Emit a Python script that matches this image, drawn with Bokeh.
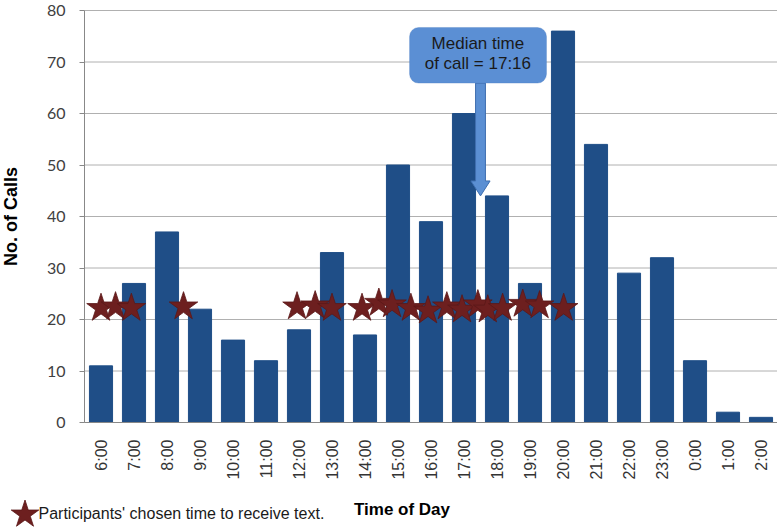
import math
from bokeh.plotting import figure
from bokeh.models import (Range1d, FixedTicker, Label, BoxAnnotation,
                          ColumnDataSource)
from bokeh.core.properties import value
from bokeh.embed import file_html
from bokeh.resources import INLINE

# ---------------- data ----------------
hours = ["6:00", "7:00", "8:00", "9:00", "10:00", "11:00", "12:00", "13:00",
         "14:00", "15:00", "16:00", "17:00", "18:00", "19:00", "20:00",
         "21:00", "22:00", "23:00", "0:00", "1:00", "2:00"]
calls = [11, 27, 37, 22, 16, 12, 18, 33, 17, 50, 39, 60, 44, 27, 76,
         54, 29, 32, 12, 2, 1]
y_ticks = [0, 10, 20, 30, 40, 50, 60, 70, 80]

# participants' chosen times (position in hours after 6:00) and marker heights
chosen_pos = [0.0, 0.44, 0.92, 2.50, 5.94, 6.49, 7.00, 7.91, 8.42, 8.82,
              9.39, 9.91, 10.48, 10.94, 11.42, 11.72, 12.17, 12.78, 13.29, 14.02]
chosen_y = [22.2, 22.5, 22.2, 22.5, 22.5, 22.7, 22.2, 22.2, 23.2, 22.9,
            22.2, 21.7, 22.5, 21.9, 22.9, 21.9, 22.2, 23.0, 22.7, 22.2]

median_label = "Median time\nof call = 17:16"
median_pos = 11.5          # position of the median arrow on the hour axis
median_bar_top = 44        # arrow points to top of 18:00 bar

x_title = "Time of Day"
y_title = "No. of Calls"
legend_label = "Participants' chosen time to receive text."

# ---------------- layout constants ----------------
W, H = 777, 531
AX_LEFT, AX_TOP, AX_ZERO = 84, 10, 422     # pixel positions of plot area
NX = len(hours)
YMAX = y_ticks[-1]
px_x = (W - AX_LEFT) / NX
px_y = (AX_ZERO - AX_TOP) / YMAX
x_lo = -0.5 - AX_LEFT / px_x
x_hi = NX - 0.5
y_hi = YMAX + AX_TOP / px_y
y_lo = -(H - AX_ZERO) / px_y


def dx(px):
    return x_lo + px / px_x


def dy(py):
    return y_hi - py / px_y


BAR = "#1f4e87"
STAR = "#6d1f1f"
GRID = "#b0b0b0"
AXIS = "#888888"

p = figure(width=W, height=H, output_backend="svg", toolbar_location=None,
           x_range=Range1d(x_lo, x_hi), y_range=Range1d(y_lo, y_hi),
           min_border=0, min_border_left=0, min_border_right=0,
           min_border_top=0, min_border_bottom=0)
p.outline_line_color = None
p.background_fill_color = "white"
p.border_fill_color = "white"
p.xgrid.visible = False
p.ygrid.visible = False

# horizontal gridlines across the plot area
p.segment(x0=[-0.5] * len(y_ticks), x1=[x_hi] * len(y_ticks), y0=y_ticks,
          y1=y_ticks, line_color=GRID, line_width=1, level="underlay")

src = ColumnDataSource(dict(x=list(range(NX)), top=calls))
p.vbar(x="x", top="top", width=0.70, source=src, fill_color=BAR,
       line_color=BAR)

# median callout arrow
s_half, h_half = 0.15, 0.29
stem_top, head_base = 65.9, median_bar_top + 2.9
tip = median_bar_top
p.patch(x=[median_pos - s_half, median_pos + s_half, median_pos + s_half,
           median_pos + h_half, median_pos, median_pos - h_half,
           median_pos - s_half],
        y=[stem_top, stem_top, head_base, head_base, tip, head_base, head_base],
        fill_color="#5b8fd3", line_color="#3f6fb0", line_width=1)

p.scatter(x=chosen_pos, y=chosen_y, marker="star", size=30,
          fill_color=STAR, line_color="#5a1818", line_width=0.8)

box = BoxAnnotation(left=9.35, right=13.5, bottom=65.9, top=76.7,
                    fill_color="#5b8fd4", fill_alpha=1.0,
                    line_color="#4a7cc0", line_width=1, border_radius=9)
p.add_layout(box)
p.add_layout(Label(x=11.42, y=71.6, text=median_label, text_align="center",
                   text_baseline="middle", text_font="Liberation Sans",
                   text_font_size="17px", text_color="#1a1a1a",
                   text_line_height=1.05))

# axes (fixed inside the canvas)
xa = p.xaxis[0]
xa.fixed_location = 0
xa.bounds = (-0.5, x_hi)
xa.ticker = FixedTicker(ticks=list(range(NX)))
xa.major_label_overrides = {i: h for i, h in enumerate(hours)}
xa.major_label_orientation = math.pi / 2
xa.major_label_text_font = "Liberation Sans"
xa.major_label_text_font_size = "16px"
xa.major_label_text_color = "#333333"
xa.major_label_standoff = 11
xa.major_tick_line_color = None
xa.minor_tick_line_color = None
xa.axis_line_color = AXIS

ya = p.yaxis[0]
ya.fixed_location = -0.5
ya.bounds = (0, YMAX)
ya.ticker = FixedTicker(ticks=y_ticks)
ya.major_label_text_font = "Lato"
ya.major_label_text_font_size = "16px"
ya.major_label_text_color = "#404040"
ya.major_tick_out = 5
ya.major_tick_in = 0
ya.major_tick_line_color = AXIS
ya.minor_tick_line_color = None
ya.major_label_standoff = 14
ya.axis_line_color = AXIS
ya.axis_label = y_title
ya.axis_label_text_font = "Liberation Sans"
ya.axis_label_text_font_style = "bold"
ya.axis_label_text_font_size = "18px"
ya.axis_label_text_color = "#000000"
ya.axis_label_standoff = 23

# x title and legend below the axis
p.scatter(x=[dx(24.5)], y=[dy(514)], marker="star", size=29, fill_color=STAR,
          line_color="#5a1818", line_width=0.8)
p.text(x=[dx(38)], y=[dy(513)], text=[legend_label], text_align="left",
       text_baseline="middle", text_font=value("Liberation Sans"),
       text_font_size="16px", text_color="#1a1a1a")
p.text(x=[dx(401.5)], y=[dy(509)], text=[x_title], text_align="center",
       text_baseline="middle", text_font=value("Liberation Sans"),
       text_font_style="bold", text_font_size="17px", text_color="#000000")

open("out.html", "w").write(file_html(p, INLINE))
